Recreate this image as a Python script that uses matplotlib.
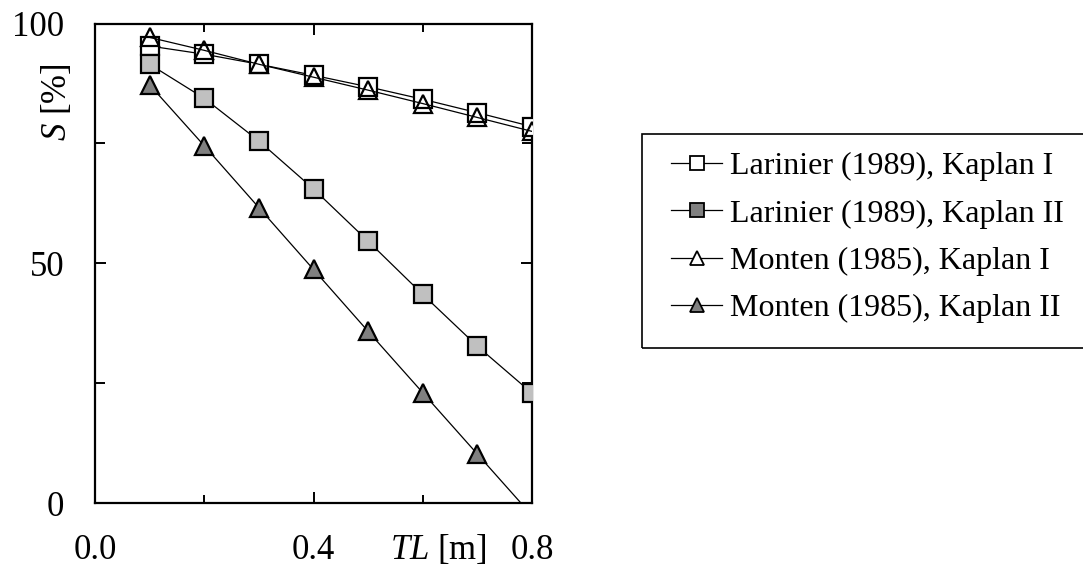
import matplotlib
matplotlib.use("Agg")
import matplotlib.pyplot as plt
from matplotlib.lines import Line2D
from matplotlib.patches import Rectangle
from matplotlib.ticker import FixedLocator

plt.rcParams['font.family'] = ['Liberation Serif', 'DejaVu Serif']
plt.rcParams['mathtext.fontset'] = 'custom'
plt.rcParams['mathtext.rm'] = 'Liberation Serif'
plt.rcParams['mathtext.it'] = 'Liberation Serif:italic'

# Data
tl = [0.1, 0.2, 0.3, 0.4, 0.5, 0.6, 0.7, 0.8]
larinier_k1 = [95.3, 93.6, 91.5, 89.2, 86.8, 84.2, 81.4, 78.5]
larinier_k2 = [91.5, 84.4, 75.5, 65.5, 54.6, 43.5, 32.7, 22.9]
monten_k1 = [97.1, 94.4, 91.5, 88.8, 86.1, 83.3, 80.4, 77.5]
monten_k2 = [87.2, 74.5, 61.6, 48.7, 35.8, 23.0, 10.2, -2.6]

labels = ["Larinier (1989), Kaplan I", "Larinier (1989), Kaplan II",
          "Monten (1985), Kaplan I", "Monten (1985), Kaplan II"]
x_major = [0.0, 0.4, 0.8]
x_minor = [0.2, 0.6]
y_major = [0, 50, 100]
y_minor = [25, 75]

W, H = 1083, 565
fig = plt.figure(figsize=(W / 100, H / 100), dpi=100)
L, R, T, B = 95, 532, 23.5, 503
ax = fig.add_axes([L / W, 1 - B / H, (R - L) / W, (B - T) / H])

ms = 12.5
mew = 1.6
lw = 0.9
ax.plot(tl, larinier_k1, color='black', lw=lw, marker='s', ms=ms, mew=mew,
        mfc='white', mec='black', zorder=3)
ax.plot(tl, monten_k1, color='black', lw=lw, marker='^', ms=ms, mew=mew,
        mfc='none', mec='black', zorder=4)
ax.plot(tl, larinier_k2, color='black', lw=lw, marker='s', ms=ms, mew=mew,
        mfc='#c0c0c0', mec='black', zorder=3)
ax.plot(tl, monten_k2, color='black', lw=lw, marker='^', ms=ms, mew=mew,
        mfc='#808080', mec='black', zorder=3)

ax.set_xlim(0, 0.8)
ax.set_ylim(0, 100)
ax.xaxis.set_major_locator(FixedLocator(x_major))
ax.xaxis.set_minor_locator(FixedLocator(x_minor))
ax.yaxis.set_major_locator(FixedLocator(y_major))
ax.yaxis.set_minor_locator(FixedLocator(y_minor))
ax.set_xticklabels(["%.1f" % v for v in x_major])
ax.set_yticklabels(["%d" % v for v in y_major])

for s in ax.spines.values():
    s.set_linewidth(1.6)
ax.tick_params(axis='both', which='both', direction='in', top=True, right=True,
               width=1.4, labelsize=25)
ax.tick_params(axis='x', which='major', length=8, pad=22)
ax.tick_params(axis='x', which='minor', length=6)
ax.tick_params(axis='y', which='major', length=8, pad=22)
ax.tick_params(axis='y', which='minor', length=7)

ax.text(0.785, -(559 - 503) / (503 - 23.5), r"$\mathit{TL}$ [m]", transform=ax.transAxes,
        ha='center', va='baseline', fontsize=25)
fig.text(57 / W, 1 - 102 / H, r"$\mathit{S}$ [%]", rotation=90,
         ha='center', va='center', fontsize=25)

# Legend
handles = [
    Line2D([], [], color='black', lw=lw, marker='s', ms=10.5, mew=1.3, mfc='white', mec='black'),
    Line2D([], [], color='black', lw=lw, marker='s', ms=10.5, mew=1.3, mfc='#808080', mec='black'),
    Line2D([], [], color='black', lw=lw, marker='^', ms=10.5, mew=1.3, mfc='white', mec='black'),
    Line2D([], [], color='black', lw=lw, marker='^', ms=10.5, mew=1.3, mfc='#808080', mec='black'),
]
leg = fig.legend(handles, labels, loc='upper left',
                 bbox_to_anchor=(671 / W, 1 - 152 / H), frameon=False,
                 fontsize=23, handlelength=1.6, handletextpad=0.25,
                 labelspacing=0.56, borderpad=0, borderaxespad=0)
rect = Rectangle((642 / W, 1 - 348 / H), (1095 - 642) / W, (348 - 134) / H,
                 transform=fig.transFigure, fill=False, edgecolor='black',
                 lw=1.2, clip_on=False)
fig.add_artist(rect)

fig.savefig("out.png", dpi=100)
